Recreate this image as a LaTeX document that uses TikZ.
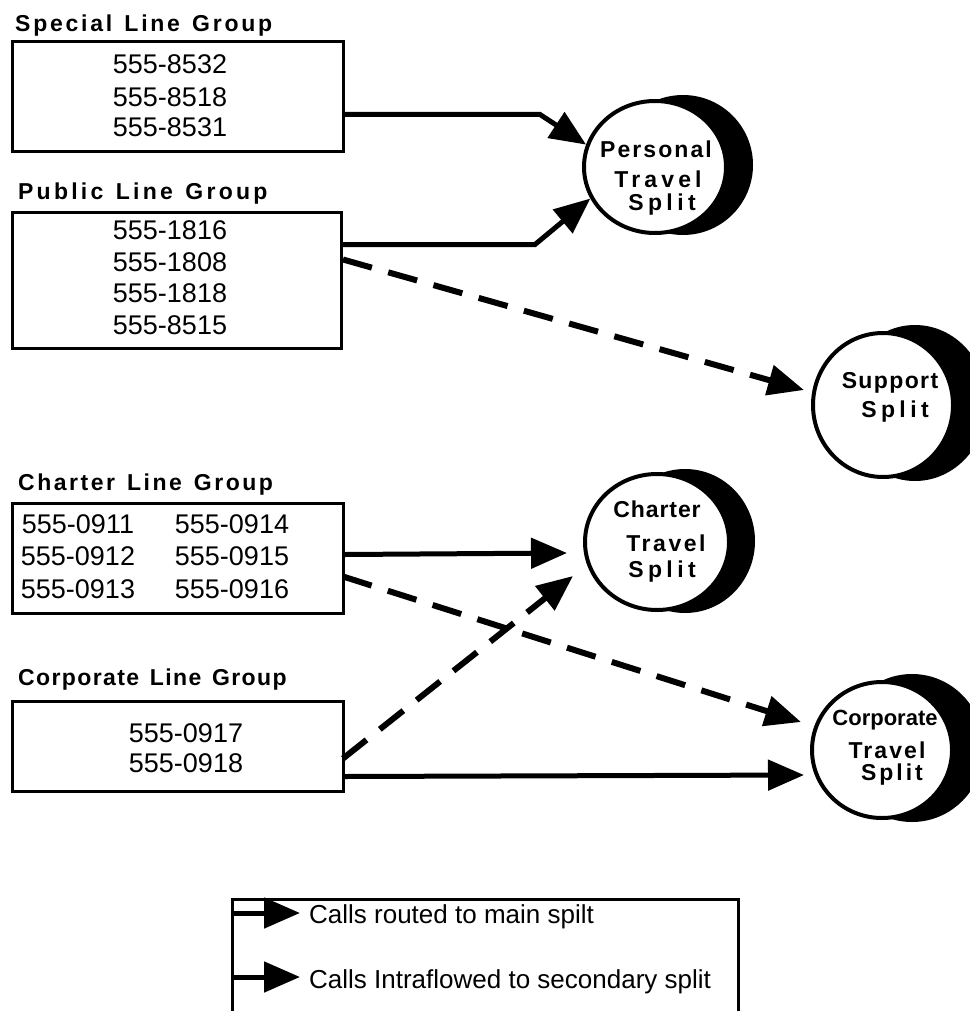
\documentclass[tikz,border=0pt]{standalone}
\usepackage{fontspec}
\setmainfont{Liberation Sans}
\usetikzlibrary{arrows.meta,shapes.geometric,calc}
\newcommand{\LSp}[2]{{\addfontfeature{LetterSpace=#1}#2}}
\newcommand{\wg}{\hspace{3pt}}
\begin{document}
\begin{tikzpicture}[x=1pt,y=-1pt,
  linebox/.style={draw, line width=3pt, inner sep=0pt, anchor=north west},
  num/.style={font=\fontsize{27}{27}\selectfont, inner sep=0pt},
  grouptitle/.style={font=\fontsize{23}{23}\selectfont\bfseries, anchor=base west, inner sep=0pt},
  ctext/.style={font=\fontsize{23}{23}\selectfont\bfseries, anchor=base, inner sep=0pt},
  moonshade/.style={ellipse, fill=black, inner sep=0pt},
  splitnode/.style={ellipse, draw, fill=white, line width=4pt, inner sep=0pt},
  mainarrow/.style={line width=5pt, -{Triangle[length=36pt,width=30pt]}},
  intraarrow/.style={line width=6pt, dash pattern=on 30pt off 17pt, -{Triangle[length=36pt,width=30pt]}},
  legtext/.style={font=\fontsize{26}{26}\selectfont, anchor=base west, inner sep=0pt}
]
\useasboundingbox (0,0) rectangle (969,1011);

% ---- group titles
\node[grouptitle] (tspecial) at (15,32) {\LSp{12}{Special\wg{} Line\wg{} Group}};
\node[grouptitle] (tpublic) at (18,200) {\LSp{14}{Public\wg{} Line\wg{} Group}};
\node[grouptitle] (tcharter) at (18,490) {\LSp{11}{Charter\wg{} Line\wg{} Group}};
\node[grouptitle] (tcorp) at (18,685) {\LSp{6}{Corporate\wg{} Line\wg{} Group}};

% ---- boxes
\node[linebox, minimum width=331pt, minimum height=110pt] (special) at (11,40) {};
\node[linebox, minimum width=329pt, minimum height=136pt] (public) at (11,211) {};
\node[linebox, minimum width=331pt, minimum height=110pt] (charterbox) at (11,502) {};
\node[linebox, minimum width=331pt, minimum height=90pt] (corpbox) at (11,700) {};

% ---- numbers
\node[num] (n1) at (170,64) {555-8532};
\node[num] (n2) at (170,97) {555-8518};
\node[num] (n3) at (170,127) {555-8531};
\node[num] (n4) at (170,230) {555-1816};
\node[num] (n5) at (170,262) {555-1808};
\node[num] (n6) at (170,293) {555-1818};
\node[num] (n7) at (170,325) {555-8515};
\node[num] (c1) at (78,524) {555-0911};
\node[num] (c2) at (78,556) {555-0912};
\node[num] (c3) at (78,589) {555-0913};
\node[num] (c4) at (232,524) {555-0914};
\node[num] (c5) at (232,556) {555-0915};
\node[num] (c6) at (232,589) {555-0916};
\node[num] (k1) at (186,733) {555-0917};
\node[num] (k2) at (186,763) {555-0918};

% ---- splits (crescent shade + white disc)
\node[moonshade, minimum width=140pt, minimum height=140pt] (persshade) at (683,165) {};
\node[splitnode, minimum width=142pt, minimum height=132pt] (pers) at (655,167) {};
\node[moonshade, minimum width=144pt, minimum height=156pt] (suppshade) at (915,403) {};
\node[splitnode, minimum width=140pt, minimum height=144pt] (supp) at (883,405) {};
\node[moonshade, minimum width=140pt, minimum height=144pt] (chshade) at (685,541) {};
\node[splitnode, minimum width=144pt, minimum height=136pt] (chs) at (657,542) {};
\node[moonshade, minimum width=144pt, minimum height=148pt] (corpshade) at (912,748) {};
\node[splitnode, minimum width=140pt, minimum height=136pt] (corp) at (882,750) {};

% ---- split texts
\node[ctext] (p1) at (656,158) {\LSp{9}{Personal}};
\node[ctext] (p2) at (658,188) {\LSp{18}{Travel}};
\node[ctext] (p3) at (662,211) {\LSp{19}{Split}};
\node[ctext] (s1) at (890,388) {\LSp{6}{Support}};
\node[ctext] (s2) at (895,417) {\LSp{19}{Split}};
\node[ctext] (h1) at (657,517) {\LSp{4}{Charter}};
\node[ctext] (h2) at (666,551) {\LSp{11}{Travel}};
\node[ctext] (h3) at (662,577) {\LSp{19}{Split}};
\node[ctext, font=\fontsize{22}{22}\selectfont\bfseries] (r1) at (885,725) {Corporate};
\node[ctext] (r2) at (887,758) {\LSp{9}{Travel}};
\node[ctext] (r3) at (892,780) {\LSp{13}{Split}};

% ---- connectors
\draw[mainarrow] ($(special.east)+(0,18)$) -- ++(195,0) -- (pers.162);
\draw[mainarrow] ($(public.east)+(0,-36)$) -- ++(192,0) -- (pers.206);
\draw[intraarrow] ($(public.east)+(0,-21)$) -- ($(supp.west)+(-7,-15)$);
\draw[mainarrow] ($(charterbox.east)+(0,-4)$) -- ($(chs.west)+(-16,11)$);
\draw[intraarrow] ($(charterbox.east)+(-2,18)$) -- ($(corp.west)+(-9,-28)$);
\draw[intraarrow] ($(corpbox.east)+(-2,12)$) -- ($(chs.west)+(-10,34)$);
\draw[mainarrow] ($(corpbox.east)+(0,30)$) -- ($(corp.west)+(-6,25)$);

% ---- legend
\node[draw, line width=2.5pt, inner sep=0pt, anchor=north west, minimum width=506pt, minimum height=125pt] (legend) at (231,898) {};
\coordinate (la) at (231,913);
\coordinate (lb) at (231,977);
\draw[mainarrow] (la) -- ++(69,0);
\draw[mainarrow] (lb) -- ++(69,0);
\node[legtext] (lt1) at (309,923) {Calls routed to main spilt};
\node[legtext] (lt2) at (309,988) {Calls Intraflowed to secondary split};
\end{tikzpicture}
\end{document}
